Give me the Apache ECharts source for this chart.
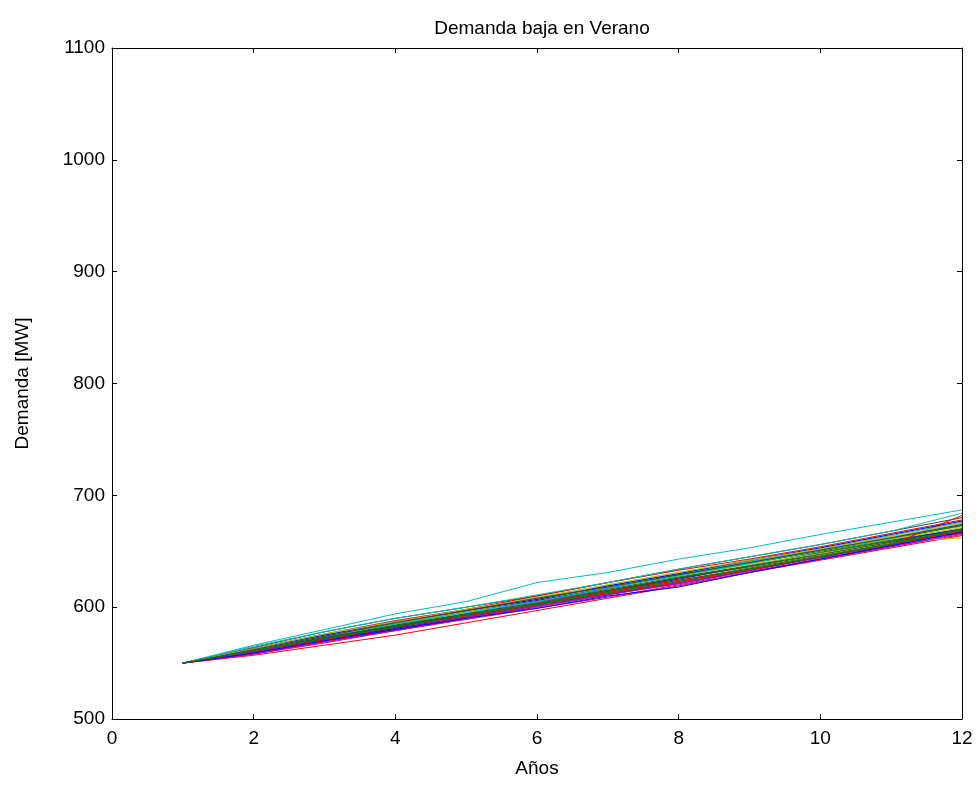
<!DOCTYPE html>
<html>
<head>
<meta charset="utf-8">
<script src="https://cdn.jsdelivr.net/npm/echarts@6/dist/echarts.min.js"></script>
<style>html,body{margin:0;padding:0;background:#fff}#c{width:979px;height:787px}</style>
</head>
<body>
<div id="c"></div>
<script>
const years = [1,2,3,4,5,6,7,8,9,10,11,12];
const xTicks = [0,2,4,6,8,10,12];
const yTicks = [500,600,700,800,900,1000,1100];
const colors = ['#0000ff','#008000','#ff0000','#00bfbf','#bf00bf','#bfbf00','#404040'];
const s01 = [550,562,574,585,596,606,617,629,640,651,662,673];
const s02 = [550,560,572,583,594,605,616,627,637,649,660,670];
const s03 = [550,557,566,575,586,597,608,619,631,642,653,664];
const s04 = [550,566,580,594,605,622,631,643,653,665,676,687];
const s05 = [550,559,570,581,591,601,612,623,634,645,656,667];
const s06 = [550,563,575,587,598,609,619,630,641,652,663,672];
const s07 = [550,564,578,590,600,610,622,634,645,656,668,680];
const s08 = [550,561,572,583,593,603,614,625,637,648,659,670];
const s09 = [550,562,573,584,596,607,618,628,639,650,661,673];
const s10 = [550,563,576,588,598,610,622,633,643,654,666,678];
const s11 = [550,565,578,590,600,611,622,634,645,656,668,684];
const s12 = [550,558,569,580,590,600,611,622,633,644,655,667];
const s13 = [550,562,575,586,597,609,620,631,641,651,661,671];
const s14 = [550,560,571,582,593,603,614,626,637,648,659,669];
const s15 = [550,560,571,581,591,602,612,621,633,645,656,668];
const s16 = [550,561,573,584,594,605,615,626,637,648,659,666];
const s17 = [550,559,569,579,590,601,612,622,633,645,656,682];
const s18 = [550,563,576,587,597,608,619,630,641,652,664,676];
const s19 = [550,558,568,579,589,599,609,620,631,643,654,665];
const s20 = [550,562,574,585,596,607,618,628,638,648,658,662];
const s21 = [550,561,573,583,594,604,615,626,636,647,658,668];
const s22 = [550,563,575,587,597,607,619,630,642,653,665,677];
const s23 = [550,560,572,582,592,602,613,624,635,646,657,669];
const s24 = [550,561,571,582,592,603,614,624,634,645,656,668];
const s25 = [550,562,574,585,595,605,617,628,639,651,662,674];
const s26 = [550,560,570,580,591,601,611,621,632,643,654,666];
const s27 = [550,563,576,587,598,608,620,631,642,652,663,675];
const s28 = [550,562,574,586,597,608,618,629,640,651,662,674];
const s29 = [550,559,570,580,590,599,610,618,631,643,655,667];
const s30 = [550,561,572,582,593,603,613,623,634,645,656,670];
const seriesValues = [s01,s02,s03,s04,s05,s06,s07,s08,s09,s10,s11,s12,s13,s14,s15,s16,s17,s18,s19,s20,s21,s22,s23,s24,s25,s26,s27,s28,s29,s30];

const font = 'Liberation Sans, Arial, Helvetica, sans-serif';
const chart = echarts.init(document.getElementById('c'));
const axisCommon = {
  axisLine: {show: true, onZero: false, lineStyle: {color: '#000', width: 1}},
  axisTick: {show: true, inside: true, length: 5, lineStyle: {color: '#000'}},
  splitLine: {show: false}
};
const fmt = v => String(v);
chart.setOption({
  animation: false,
  backgroundColor: '#fff',
  title: {text: 'Demanda baja en Verano', left: 537, textAlign: 'center', top: 14,
    textStyle: {fontFamily: font, fontSize: 19, fontWeight: 'normal', color: '#000'}},
  grid: {left: 112, right: 17, top: 48, bottom: 68},
  xAxis: [
    Object.assign({type: 'value', min: 0, max: 12, interval: 2, position: 'bottom',
      name: 'Años', nameLocation: 'middle', nameGap: 40,
      nameTextStyle: {fontFamily: font, fontSize: 19, color: '#000'},
      axisLabel: {fontFamily: font, fontSize: 19, color: '#000', margin: 10, formatter: fmt}}, axisCommon),
    Object.assign({type: 'value', min: 0, max: 12, interval: 2, position: 'top',
      axisLabel: {show: false}}, axisCommon)
  ],
  yAxis: [
    Object.assign({type: 'value', min: 500, max: 1100, interval: 100, position: 'left',
      name: 'Demanda [MW]', nameLocation: 'middle', nameGap: 80,
      nameTextStyle: {fontFamily: font, fontSize: 19, color: '#000'},
      axisLabel: {fontFamily: font, fontSize: 19, color: '#000', margin: 7, formatter: fmt}}, axisCommon),
    Object.assign({type: 'value', min: 500, max: 1100, interval: 100, position: 'right',
      axisLabel: {show: false}}, axisCommon)
  ],
  series: seriesValues.map((vals, i) => ({
    type: 'line',
    data: vals.map((v, j) => [years[j], v]),
    showSymbol: false,
    symbol: 'none',
    lineStyle: {width: 1, color: colors[i % colors.length]},
    itemStyle: {color: colors[i % colors.length]},
    xAxisIndex: 0, yAxisIndex: 0
  }))
});
</script>
</body>
</html>
